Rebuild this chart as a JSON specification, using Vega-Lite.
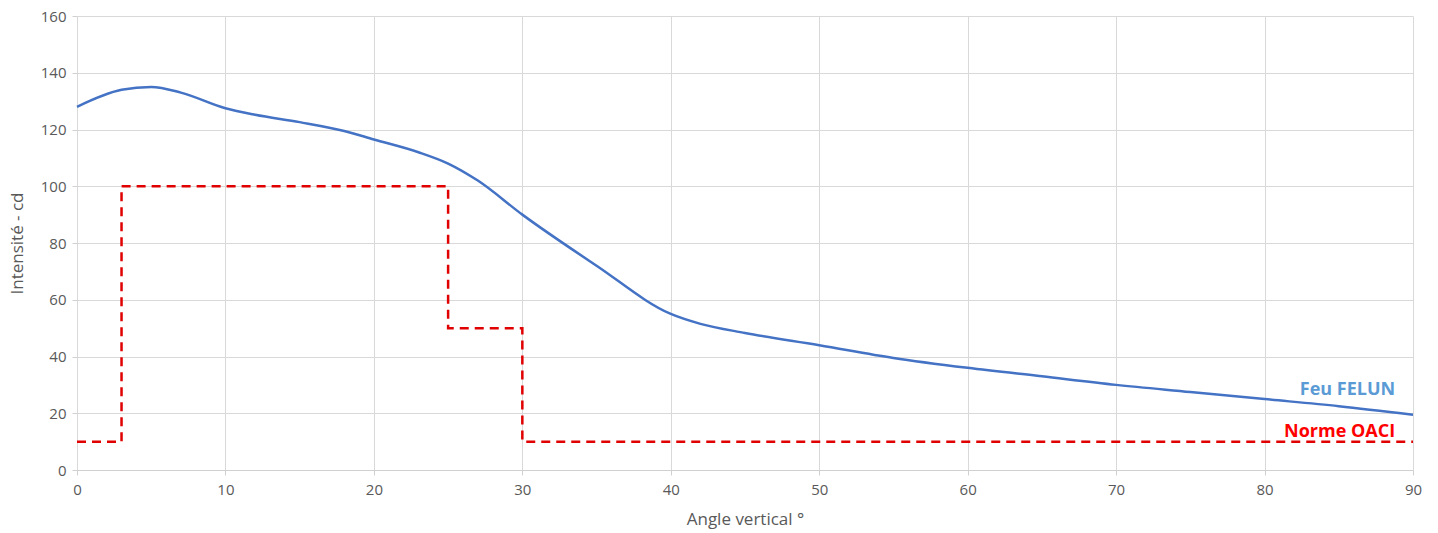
{
  "$schema": "https://vega.github.io/schema/vega-lite/v6.json",
  "width": 1336,
  "height": 454,
  "autosize": "none",
  "padding": {"left": 77, "top": 16, "right": 25, "bottom": 63},
  "background": "white",
  "config": {
    "view": {"stroke": null},
    "font": "Open Sans",
    "axis": {
      "gridColor": "#d9d9d9",
      "gridWidth": 1,
      "domainColor": "#d0d0d0",
      "tickColor": "#d0d0d0",
      "tickSize": 5,
      "labelColor": "#595959",
      "labelFontSize": 15,
      "labelFlush": false,
      "titleColor": "#595959",
      "titleFontSize": 17,
      "titleFontWeight": "normal"
    }
  },
  "datasets": {
    "felun": [
      {"angle": 0, "cd": 128},
      {"angle": 3, "cd": 134},
      {"angle": 5, "cd": 135},
      {"angle": 7, "cd": 133},
      {"angle": 10, "cd": 127.5},
      {"angle": 12, "cd": 125.2},
      {"angle": 15, "cd": 122.6},
      {"angle": 18, "cd": 119.5},
      {"angle": 20, "cd": 116.5},
      {"angle": 23, "cd": 112},
      {"angle": 25, "cd": 108},
      {"angle": 27, "cd": 102},
      {"angle": 30, "cd": 90},
      {"angle": 35, "cd": 72},
      {"angle": 40, "cd": 55},
      {"angle": 42, "cd": 51.5},
      {"angle": 45, "cd": 48.3},
      {"angle": 50, "cd": 44},
      {"angle": 55, "cd": 39.5},
      {"angle": 60, "cd": 36},
      {"angle": 65, "cd": 33},
      {"angle": 70, "cd": 30},
      {"angle": 75, "cd": 27.5},
      {"angle": 80, "cd": 25},
      {"angle": 85, "cd": 22.5},
      {"angle": 90, "cd": 19.5}
    ],
    "oaci": [
      {"order": 1, "angle": 0, "cd": 10},
      {"order": 2, "angle": 3, "cd": 10},
      {"order": 3, "angle": 3, "cd": 100},
      {"order": 4, "angle": 25, "cd": 100},
      {"order": 5, "angle": 25, "cd": 50},
      {"order": 6, "angle": 30, "cd": 50},
      {"order": 7, "angle": 30, "cd": 10},
      {"order": 8, "angle": 90, "cd": 10}
    ],
    "labels": [
      {"angle": 88.8, "cd": 28.2, "text": "Feu FELUN", "series": "felun"},
      {"angle": 88.8, "cd": 13.4, "text": "Norme OACI", "series": "oaci"}
    ]
  },
  "layer": [
    {
      "data": {"name": "oaci"},
      "mark": {"type": "line", "color": "#e00000", "strokeWidth": 2.5, "strokeDash": [9, 6], "interpolate": "linear"},
      "encoding": {
        "x": {"field": "angle", "type": "quantitative", "scale": {"domain": [0, 90], "nice": false}, "axis": {"title": "Angle vertical °", "values": [0,10,20,30,40,50,60,70,80,90], "labelPadding": 7, "titlePadding": 14}},
        "y": {"field": "cd", "type": "quantitative", "scale": {"domain": [0, 160], "nice": false}, "axis": {"title": "Intensité - cd", "values": [0,20,40,60,80,100,120,140,160], "domain": false, "labelPadding": 6, "titlePadding": 14}},
        "order": {"field": "order"}
      }
    },
    {
      "data": {"name": "felun"},
      "mark": {"type": "line", "color": "#4472c4", "strokeWidth": 2.5, "interpolate": "monotone"},
      "encoding": {
        "x": {"field": "angle", "type": "quantitative"},
        "y": {"field": "cd", "type": "quantitative"}
      }
    },
    {
      "data": {"name": "labels"},
      "mark": {"type": "text", "align": "right", "baseline": "middle", "fontWeight": "bold", "fontSize": 18},
      "encoding": {
        "x": {"field": "angle", "type": "quantitative"},
        "y": {"field": "cd", "type": "quantitative"},
        "text": {"field": "text"},
        "color": {"field": "series", "type": "nominal", "scale": {"domain": ["felun", "oaci"], "range": ["#5b9bd5", "#ff0000"]}, "legend": null}
      }
    }
  ]
}
